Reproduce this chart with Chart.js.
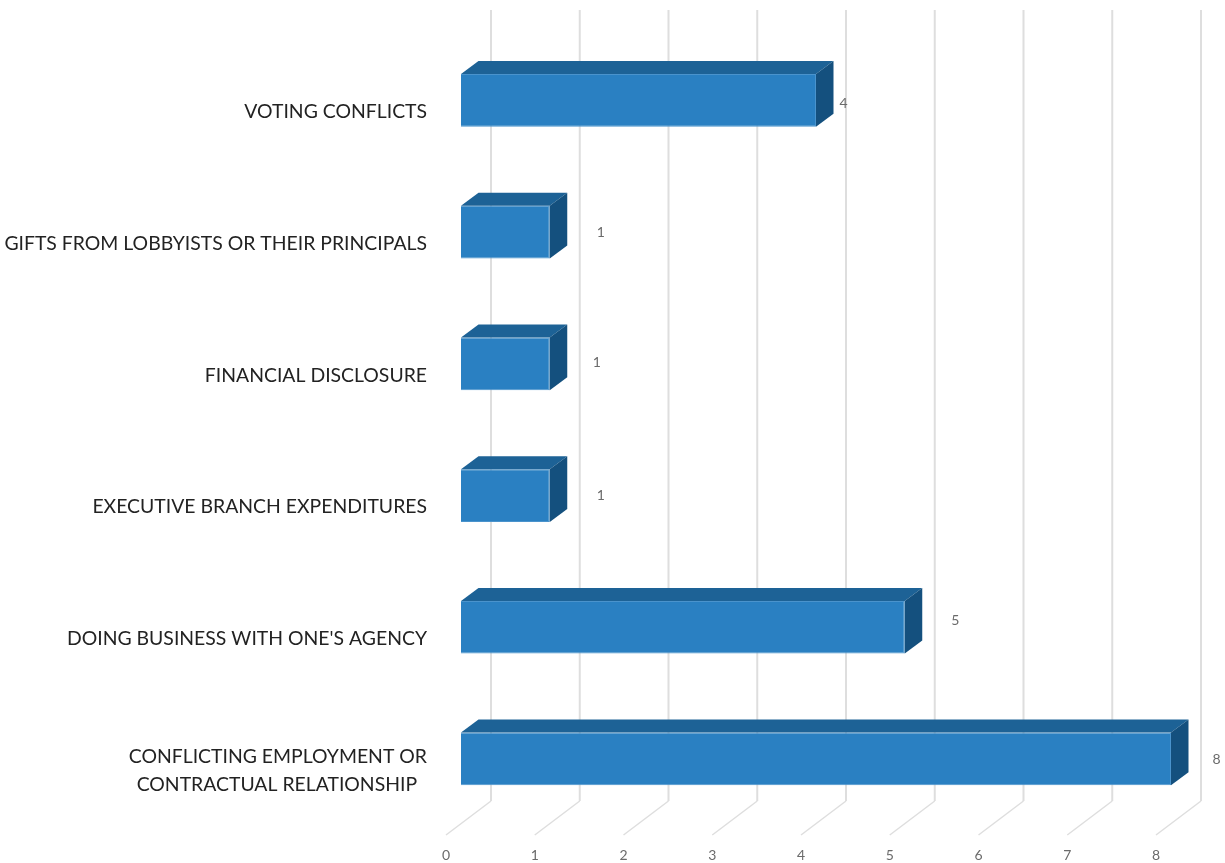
<!DOCTYPE html>
<html>
<head>
<meta charset="utf-8">
<title>Complaints by category</title>
<script src="https://cdn.jsdelivr.net/npm/chart.js@4"></script>
<style>
  html, body { margin: 0; background: #fff; }
  canvas { display: block; }
</style>
</head>
<body>
<canvas id="myChart" width="1225" height="863"></canvas>
<script>
const categories = [
  'VOTING CONFLICTS',
  'GIFTS FROM LOBBYISTS OR THEIR PRINCIPALS',
  'FINANCIAL DISCLOSURE',
  'EXECUTIVE BRANCH EXPENDITURES',
  "DOING BUSINESS WITH ONE'S AGENCY",
  ['CONFLICTING EMPLOYMENT OR', 'CONTRACTUAL RELATIONSHIP  ']
];
const counts = [4, 1, 1, 1, 5, 8];
const xTicks = [0, 1, 2, 3, 4, 5, 6, 7, 8];

// how far each value label sits past the end of its bar, and its vertical nudge
const labelGap = [27.5, 51, 47, 51, 50.5, 45.5];
const labelRise = [3.5, 0, -1.5, 0, -6.5, 1];

const depthX = 17.5, depthY = 13;       // bar extrusion
const wallX = 30, wallTop = 10, wallBottom = 801;  // back wall gridlines
const floorX = -15, floorY = 835;       // where floor lines end

const ctx = document.getElementById('myChart');

// back wall and floor lines, drawn under the bars
const gridPlugin = {
  id: 'wallGrid',
  beforeDatasetsDraw(chart) {
    const c = chart.ctx, x = chart.scales.x;
    c.save();
    xTicks.forEach(v => {
      const px = x.getPixelForValue(v);
      c.strokeStyle = '#dedede';
      c.lineWidth = 2;
      c.beginPath();
      c.moveTo(px + wallX, wallTop);
      c.lineTo(px + wallX, wallBottom);
      c.stroke();
      c.lineWidth = 1.5;
      c.beginPath();
      c.moveTo(px + wallX, wallBottom);
      c.lineTo(px + floorX, floorY);
      c.stroke();
    });
    c.restore();
  }
};

// top and side faces of the bars, plus value labels
const boxPlugin = {
  id: 'boxFaces',
  afterDatasetsDraw(chart) {
    const c = chart.ctx;
    c.save();
    chart.getDatasetMeta(0).data.forEach((bar, i) => {
      const top = bar.y - bar.height / 2, bottom = bar.y + bar.height / 2;
      const l = bar.base, r = bar.x;

      c.fillStyle = '#1d6296';
      c.beginPath();
      c.moveTo(l, top);
      c.lineTo(l + depthX, top - depthY);
      c.lineTo(r + depthX, top - depthY);
      c.lineTo(r, top);
      c.closePath();
      c.fill();

      c.fillStyle = '#14507e';
      c.beginPath();
      c.moveTo(r, top);
      c.lineTo(r + depthX, top - depthY);
      c.lineTo(r + depthX, bottom - depthY);
      c.lineTo(r, bottom);
      c.closePath();
      c.fill();

      c.fillStyle = '#6b6b6b';
      c.font = '14px Lato';
      c.textAlign = 'center';
      c.textBaseline = 'middle';
      c.fillText(counts[i], r + labelGap[i], bar.y + labelRise[i]);
    });
    c.restore();
  }
};

let mychart = new Chart(ctx, {
  type: 'bar',
  data: {
    labels: categories,
    datasets: [{
      data: counts,
      backgroundColor: '#2a80c2',
      borderColor: '#4a93cc',
      borderWidth: 1,
      categoryPercentage: 1,
      barPercentage: 0.4
    }]
  },
  options: {
    indexAxis: 'y',
    responsive: false,
    animation: false,
    layout: { padding: { top: 34.6, right: 54, left: 0, bottom: 0 } },
    plugins: { legend: { display: false }, tooltip: { enabled: false } },
    scales: {
      x: {
        min: 0,
        max: 8,
        afterBuildTicks(scale) { scale.ticks = xTicks.map(v => ({ value: v })); },
        afterFit(scale) { scale.height = 38.2; },
        grid: { display: false },
        border: { display: false },
        ticks: { color: '#6b6b6b', font: { family: 'Lato', size: 14 }, labelOffset: -15, padding: 14, maxRotation: 0 }
      },
      y: {
        afterFit(scale) {
          scale.width = 461;
          scale.paddingTop = 0;
          scale.paddingBottom = 0;
        },
        grid: { display: false },
        border: { display: false },
        ticks: {
          color: '#222222',
          font: { family: 'Lato', size: 19.4, lineHeight: 1.44 },
          padding: 26,
          labelOffset: 11.5,
          autoSkip: false
        }
      }
    }
  },
  plugins: [gridPlugin, boxPlugin]
});
</script>
</body>
</html>
